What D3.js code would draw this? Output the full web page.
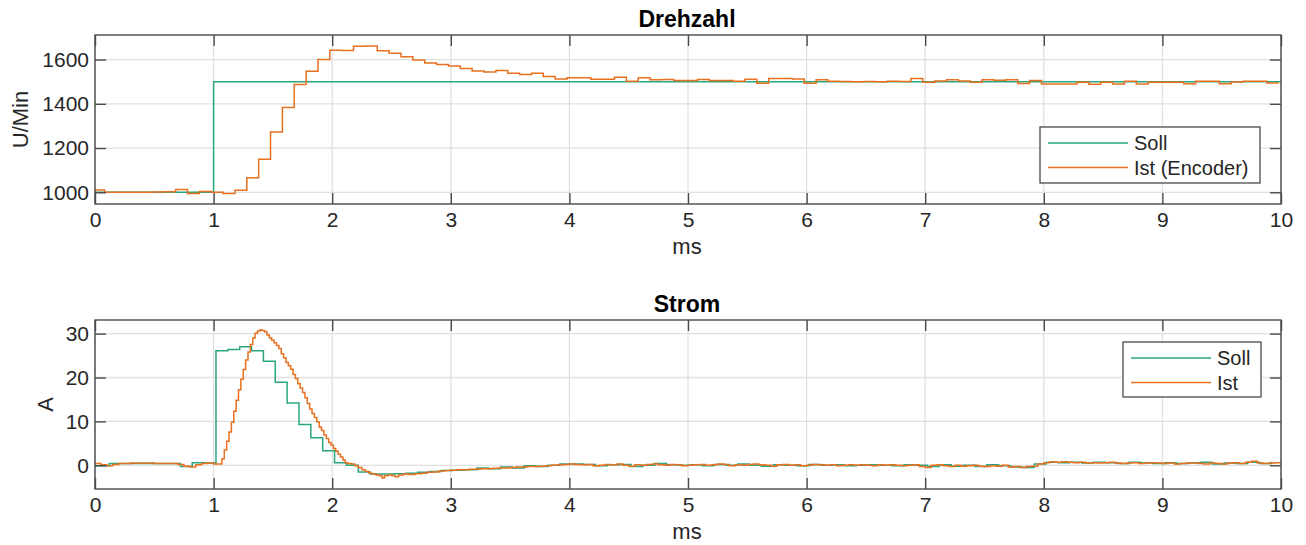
<!DOCTYPE html>
<html>
<head>
<meta charset="utf-8">
<script src="https://cdn.jsdelivr.net/npm/d3@7"></script>
<style>
    body { margin: 0; background: #fff; }
    text { font-family: "Liberation Sans", Arial, Helvetica, sans-serif; fill: #262626; }
</style>
</head>
<body>
<div id="chart"></div>
<script>
// data
// x axis ticks (ms)
var xTicks = [0, 1, 2, 3, 4, 5, 6, 7, 8, 9, 10];

// Drehzahl, Soll is a single step
var drehzahlSollT = [0, 1, 10];
var drehzahlSollV = [1000, 1500, 1500];
var drehzahlTicks = [1000, 1200, 1400, 1600];

// Drehzahl Ist (Encoder), one value every 0.1 ms starting at -0.02 ms
var drehzahlIstStart = -0.02;
var drehzahlIstStep = 0.1;
var drehzahlIst = [
    1010, 1000, 1000, 1000, 1000, 1001, 1002, 1013, 995, 1004,
    1000, 994, 1009, 1066, 1149, 1272, 1383, 1487, 1547, 1600,
    1642, 1641, 1660, 1661, 1640, 1628, 1613, 1598, 1584, 1578,
    1571, 1560, 1548, 1544, 1550, 1538, 1532, 1538, 1523, 1512,
    1518, 1518, 1511, 1511, 1520, 1502, 1518, 1509, 1510, 1505,
    1505, 1510, 1505, 1505, 1502, 1511, 1493, 1514, 1514, 1512,
    1493, 1509, 1502, 1501, 1500, 1501, 1500, 1502, 1501, 1514,
    1497, 1503, 1509, 1503, 1497, 1509, 1506, 1509, 1492, 1505,
    1490, 1489, 1490, 1497, 1488, 1497, 1490, 1502, 1490, 1497,
    1497, 1497, 1491, 1502, 1502, 1491, 1499, 1502, 1502, 1494,
    1494
];

// Strom Soll, one value every 0.1 ms starting at -0.08 ms
var stromSollStart = -0.08;
var stromSollStep = 0.1;
var stromSoll = [
    -0.1, -0.1, 0.4, 0.4, 0.4, 0.4, 0.4, 0.4, -0.3, 0.6,
    0.5, 26.1, 26.4, 27.0, 26.1, 23.7, 18.9, 14.2, 9.3, 6.3,
    3.3, 0.6, 0.0, -1.5, -2.0, -2.0, -1.9, -1.8, -1.6, -1.4,
    -1.2, -1.1, -1.0, -0.6, -0.8, -0.4, -0.6, -0.1, -0.3, 0.0,
    0.3, 0.3, 0.2, -0.1, 0.1, 0.2, -0.3, 0.0, 0.4, 0.1,
    0.0, 0.1, -0.1, 0.2, 0.0, 0.3, 0.0, -0.2, 0.1, 0.0,
    -0.1, 0.2, 0.0, 0.1, -0.1, 0.0, 0.1, 0.0, -0.1, 0.1,
    0.0, -0.3, 0.1, -0.2, 0.0, -0.3, 0.1, -0.1, -0.4, -0.5,
    0.3, 0.7, 0.6, 0.7, 0.5, 0.7, 0.6, 0.4, 0.7, 0.5,
    0.4, 0.6, 0.4, 0.5, 0.7, 0.3, 0.5, 0.4, 0.7, 0.4,
    0.8
];
var stromTicks = [0, 10, 20, 30];

// Strom Ist, first 3 ms as [ms, A] pairs (finer where the current moves)
var stromIstHead = [
    [0, 0.4], [0.05, 0.1], [0.1, -0.1], [0.15, 0.2], [0.2, 0.4], [0.3, 0.5],
    [0.4, 0.5], [0.5, 0.4], [0.6, 0.4], [0.7, 0.2], [0.75, -0.2], [0.8, -0.4],
    [0.85, 0.1], [0.9, 0.4], [0.95, 0.5], [1.0, 0.3], [1.05, 0.3], [1.07, 1.5],
    [1.09, 3.5], [1.11, 5.5], [1.13, 7.6], [1.15, 9.8], [1.17, 12.3], [1.19, 14.8],
    [1.21, 17.2], [1.23, 19.6], [1.25, 21.8], [1.27, 24.0], [1.29, 25.8], [1.31, 27.5],
    [1.33, 29.0], [1.35, 30.1], [1.37, 30.6], [1.39, 30.8], [1.41, 30.7], [1.43, 30.4],
    [1.45, 29.7], [1.47, 29.0], [1.49, 28.5], [1.51, 27.9], [1.53, 27.3], [1.55, 26.6],
    [1.57, 25.4], [1.59, 24.5], [1.61, 23.4], [1.63, 22.7], [1.65, 21.9], [1.67, 20.7],
    [1.69, 19.8], [1.71, 18.6], [1.73, 17.6], [1.75, 16.6], [1.77, 15.4], [1.79, 14.1],
    [1.81, 12.8], [1.83, 11.8], [1.85, 10.9], [1.87, 9.9], [1.89, 8.7], [1.91, 7.9],
    [1.93, 6.9], [1.95, 6.1], [1.97, 5.2], [1.99, 4.6], [2.01, 3.8], [2.03, 3.2],
    [2.05, 2.5], [2.07, 1.9], [2.09, 1.2], [2.11, 0.6], [2.13, 0.4], [2.16, 0.3],
    [2.19, -0.1], [2.22, -0.5], [2.25, -1.0], [2.28, -1.4], [2.31, -1.8], [2.34, -2.0],
    [2.37, -2.2], [2.40, -2.4], [2.42, -2.9], [2.44, -2.4], [2.47, -2.2], [2.50, -2.3],
    [2.53, -2.6], [2.56, -2.2], [2.60, -2.0], [2.65, -2.1], [2.70, -1.9], [2.75, -1.8],
    [2.80, -1.6], [2.85, -1.5], [2.90, -1.3], [2.95, -1.2]
];

// Strom Ist after 3 ms, one value every 0.05 ms
var stromIstTailStart = 3.0;
var stromIstTailStep = 0.05;
var stromIstTail = [
    -1.1, -1.0, -1.0, -0.9, -0.9, -0.8, -0.8, -0.7, -0.6, -0.6,
    -0.5, -0.4, -0.4, -0.3, -0.3, -0.2, -0.1, 0.0, 0.1, 0.2,
    0.3, 0.2, 0.1, 0.2, -0.1, 0.0, 0.2, 0.1, 0.3, 0.0,
    -0.2, 0.1, 0.0, 0.2, 0.3, 0.1, 0.0, 0.2, 0.1, -0.1,
    0.0, 0.1, 0.2, 0.0, 0.1, 0.3, 0.2, -0.1, 0.1, 0.0,
    0.2, 0.3, 0.1, 0.0, -0.2, 0.1, 0.2, 0.0, 0.1, -0.1,
    0.0, 0.2, 0.1, 0.0, 0.1, -0.1, 0.0, 0.1, 0.0, 0.1,
    0.0, -0.1, 0.1, 0.0, 0.1, 0.0, -0.1, 0.0, 0.1, -0.3,
    -0.5, 0.0, 0.1, -0.1, -0.3, 0.0, -0.2, -0.1, 0.0, -0.2,
    -0.3, -0.1, -0.2, 0.0, -0.4, -0.3, -0.5, -0.3, -0.2, 0.3,
    0.6, 0.8, 0.7, 0.8, 0.7, 0.6, 0.7, 0.5, 0.6, 0.5,
    0.6, 0.7, 0.5, 0.4, 0.5, 0.6, 0.4, 0.5, 0.6, 0.5,
    0.4, 0.5, 0.3, 0.4, 0.5, 0.6, 0.4, 0.3, 0.5, 0.4,
    0.3, 0.5, 0.6, 0.4, 0.7, 0.9, 0.5, 0.4, 0.5, 0.6,
    0.8
];

// colours
var sollColor = "#2aa581";
var istColor = "#e8701e";

// svg size
var svgWidth = 1306;
var svgHeight = 545;

var svg = d3.select("#chart")
    .append("svg")
    .attr("width", svgWidth)
    .attr("height", svgHeight);

// turn a uniform sample list into [t, v] points
function sampled(start, step, values) {
    return values.map((v, i) => [start + i * step, v]);
}

// draws one panel
function drawPanel(opt) {
    var x = d3.scaleLinear().domain([0, 10]).range([opt.left, opt.right]);
    var y = d3.scaleLinear().domain(opt.yDomain).range([opt.bottom, opt.top]);
    var tickLen = 11;

    var g = svg.append("g");

    // grid
    g.append("g").selectAll("line")
        .data(xTicks)
        .enter()
        .append("line")
        .attr("x1", d => x(d)).attr("x2", d => x(d))
        .attr("y1", opt.top).attr("y2", opt.bottom)
        .attr("stroke", "#e0e0e0")
        .attr("stroke-width", 1.3);

    g.append("g").selectAll("line")
        .data(opt.yTicks)
        .enter()
        .append("line")
        .attr("x1", opt.left).attr("x2", opt.right)
        .attr("y1", d => y(d)).attr("y2", d => y(d))
        .attr("stroke", "#e0e0e0")
        .attr("stroke-width", 1.3);

    // clip
    var clipId = "clip-" + opt.id;
    svg.append("clipPath")
        .attr("id", clipId)
        .append("rect")
        .attr("x", opt.left).attr("y", opt.top)
        .attr("width", opt.right - opt.left)
        .attr("height", opt.bottom - opt.top);

    var line = d3.line()
        .x(d => x(d[0]))
        .y(d => y(d[1]))
        .curve(d3.curveStepAfter);

    var lines = g.append("g").attr("clip-path", `url(#${clipId})`);

    lines.append("path")
        .datum(opt.soll)
        .attr("fill", "none")
        .attr("stroke", sollColor)
        .attr("stroke-width", 1.5)
        .attr("d", line);

    lines.append("path")
        .datum(opt.ist)
        .attr("fill", "none")
        .attr("stroke", istColor)
        .attr("stroke-width", 1.5)
        .attr("d", line);

    // axes, ticks go inside like matlab
    var fmt = d3.format("d");
    var bottomAxis = d3.axisBottom(x).tickValues(xTicks).tickFormat(fmt).tickSizeInner(-tickLen).tickSizeOuter(0).tickPadding(8);
    var topAxis = d3.axisTop(x).tickValues(xTicks).tickSizeInner(-tickLen).tickSizeOuter(0).tickFormat("");
    var leftAxis = d3.axisLeft(y).tickValues(opt.yTicks).tickFormat(fmt).tickSizeInner(-tickLen).tickSizeOuter(0).tickPadding(6);
    var rightAxis = d3.axisRight(y).tickValues(opt.yTicks).tickSizeInner(-tickLen).tickSizeOuter(0).tickFormat("");

    var axes = [
        g.append("g").attr("transform", `translate(0, ${opt.bottom})`).call(bottomAxis),
        g.append("g").attr("transform", `translate(0, ${opt.top})`).call(topAxis),
        g.append("g").attr("transform", `translate(${opt.left}, 0)`).call(leftAxis),
        g.append("g").attr("transform", `translate(${opt.right}, 0)`).call(rightAxis)
    ];
    axes.forEach(function(a) {
        a.select(".domain").remove();
        a.selectAll(".tick line").attr("stroke", "#4a4a4a").attr("stroke-width", 1.4);
        a.selectAll(".tick text")
            .attr("font-size", 21)
            .attr("fill", "#262626")
            .style("font-family", "'Liberation Sans', Arial, sans-serif");
    });

    // box
    g.append("rect")
        .attr("x", opt.left).attr("y", opt.top)
        .attr("width", opt.right - opt.left)
        .attr("height", opt.bottom - opt.top)
        .attr("fill", "none")
        .attr("stroke", "#4a4a4a")
        .attr("stroke-width", 1.4);

    // title
    g.append("text")
        .attr("x", 687)
        .attr("y", opt.top - 8)
        .attr("text-anchor", "middle")
        .attr("font-size", 23)
        .attr("font-weight", "bold")
        .style("fill", "#000")
        .text(opt.title);

    // x label
    g.append("text")
        .attr("x", 687)
        .attr("y", opt.bottom + 50)
        .attr("text-anchor", "middle")
        .attr("font-size", 22)
        .text("ms");

    // y label
    g.append("text")
        .attr("transform", `translate(${opt.yLabelX}, ${(opt.top + opt.bottom) / 2}) rotate(-90)`)
        .attr("text-anchor", "middle")
        .attr("font-size", 22)
        .text(opt.yLabel);

    // legend
    var lg = g.append("g");
    lg.append("rect")
        .attr("x", opt.legend.x).attr("y", opt.legend.y)
        .attr("width", opt.legend.w).attr("height", opt.legend.h)
        .attr("fill", "#fff")
        .attr("stroke", "#4a4a4a")
        .attr("stroke-width", 1.3);

    var entries = [
        {name: "Soll", color: sollColor},
        {name: opt.istName, color: istColor}
    ];
    entries.forEach(function(e, i) {
        var ly = opt.legend.y + 16 + i * 24.5;
        lg.append("line")
            .attr("x1", opt.legend.x + 8).attr("x2", opt.legend.x + 88)
            .attr("y1", ly).attr("y2", ly)
            .attr("stroke", e.color)
            .attr("stroke-width", 1.5);
        lg.append("text")
            .attr("x", opt.legend.x + 94)
            .attr("y", ly + 7)
            .attr("font-size", 20)
            .text(e.name);
    });
}

drawPanel({
    id: "drehzahl",
    title: "Drehzahl",
    left: 95, right: 1281, top: 35, bottom: 204,
    yDomain: [947, 1711],
    yTicks: drehzahlTicks,
    yLabel: "U/Min",
    yLabelX: 28,
    istName: "Ist (Encoder)",
    soll: drehzahlSollT.map((t, i) => [t, drehzahlSollV[i]]),
    ist: sampled(drehzahlIstStart, drehzahlIstStep, drehzahlIst),
    legend: {x: 1040, y: 127, w: 220, h: 56}
});

drawPanel({
    id: "strom",
    title: "Strom",
    left: 95, right: 1281, top: 320, bottom: 489,
    yDomain: [-5.4, 33.1],
    yTicks: stromTicks,
    yLabel: "A",
    yLabelX: 53,
    istName: "Ist",
    soll: sampled(stromSollStart, stromSollStep, stromSoll),
    ist: stromIstHead.concat(sampled(stromIstTailStart, stromIstTailStep, stromIstTail)),
    legend: {x: 1123, y: 342, w: 138, h: 55}
});
</script>
</body>
</html>
